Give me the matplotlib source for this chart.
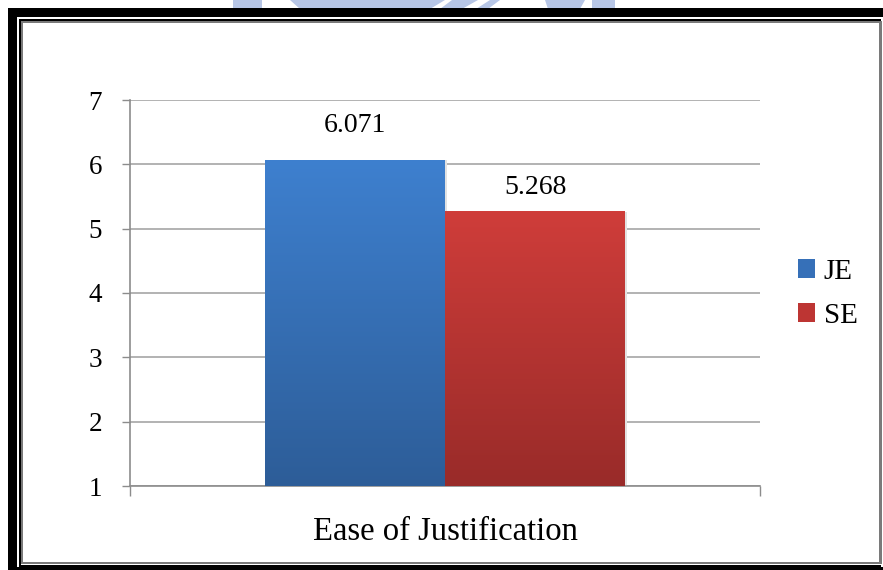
import numpy as np
import matplotlib
matplotlib.use("Agg")
import matplotlib.pyplot as plt
from matplotlib.patches import Rectangle, Polygon, Patch

# -- data --
categories = ["Ease of Justification"]
series     = ["JE", "SE"]
values     = [6.071, 5.268]
yticks     = [1, 2, 3, 4, 5, 6, 7]

top_colors = ["#3E80CF", "#CF3D3A"]
bot_colors = ["#2D5D98", "#992B29"]
leg_colors = ["#3670B8", "#BD3533"]

W, H = 883, 570
plt.rcParams["font.family"] = ["Liberation Serif", "DejaVu Serif"]

fig = plt.figure(figsize=(W / 100, H / 100), dpi=100)


def px_rect(x0, y0, x1, y1, color, z=5):
    fig.patches.append(Rectangle((x0 / W, 1 - y1 / H), (x1 - x0) / W, (y1 - y0) / H,
                                 transform=fig.transFigure, facecolor=color,
                                 edgecolor="none", zorder=z))


def px_poly(pts, color, z=1):
    fig.patches.append(Polygon([(x / W, 1 - y / H) for x, y in pts], closed=True,
                               transform=fig.transFigure, facecolor=color,
                               edgecolor="none", zorder=z))


# faint watermark peeking above the frame
wm = "#B7C6E6"
px_poly([(233, 0), (262, 0), (262, 9), (233, 9)], wm)
px_poly([(290, 0), (445, 0), (430, 9), (300, 9)], wm)
px_poly([(452, 0), (478, 0), (462, 9), (440, 9)], wm)
px_poly([(490, 0), (500, 0), (488, 9), (476, 9)], wm)
px_poly([(545, 0), (585, 0), (580, 9), (548, 9)], wm)
px_poly([(592, 0), (615, 0), (615, 9), (592, 9)], wm)

# frame
px_rect(8, 8, 883, 17, "black")
px_rect(8, 8, 17, 570, "black")
px_rect(8, 567, 883, 570, "black")
px_rect(19, 19, 881, 21, "black")
px_rect(19, 19, 21, 566, "black")
px_rect(19, 565, 881, 567, "black")
px_rect(21, 21, 880, 23, "#7A7A7A")
px_rect(21, 21, 23, 564, "#7A7A7A")
px_rect(21, 562, 880, 564, "#7A7A7A")
px_rect(879, 21, 882, 564, "#7A7A7A")

ax = fig.add_axes([130 / W, 1 - 486 / H, 630 / W, 386 / H])

bar_w = 180 / 630
x_pos = [-bar_w / 2, bar_w / 2]

grad = np.linspace(0, 1, 256).reshape(-1, 1)
for i, (xp, v) in enumerate(zip(x_pos, values)):
    # soft shadow
    ax.add_patch(Rectangle((xp - bar_w / 2 + 0.003, 1), bar_w, v - 1 - 0.01,
                           facecolor="#E2E2E2", edgecolor="none", zorder=2))
    bar = ax.bar(xp, v - 1, bottom=1, width=bar_w, color=top_colors[i],
                 edgecolor="none", zorder=3)[0]
    c_top = np.array(matplotlib.colors.to_rgb(top_colors[i]))
    c_bot = np.array(matplotlib.colors.to_rgb(bot_colors[i]))
    img = c_top[None, None, :] * (1 - grad[:, :, None]) + c_bot[None, None, :] * grad[:, :, None]
    im = ax.imshow(img, extent=[xp - bar_w / 2, xp + bar_w / 2, 1, v],
                   aspect="auto", zorder=4, origin="upper")
    im.set_clip_path(bar)

label_offsets = [22, 11]
for xp, v, off in zip(x_pos, values, label_offsets):
    ax.annotate(f"{v:.3f}", (xp, v), xytext=(0, off * 0.72), textcoords="offset points",
                ha="center", va="bottom", fontsize=20, zorder=6)

ax.set_xlim(-0.5, 0.5)
ax.set_ylim(1, 7)
ax.set_yticks(yticks)
ax.set_yticklabels([str(t) for t in yticks], fontsize=19.5)
ax.set_xticks([-0.5, 0.5])
ax.set_xticklabels(["", ""])
ax.tick_params(axis="y", length=6, width=1, color="#8C8C8C", pad=14)
ax.tick_params(axis="x", length=7, width=1, color="#8C8C8C")
ax.yaxis.grid(True, color="#A6A6A6", linewidth=1.2, zorder=0)
ax.set_axisbelow(True)
for s in ["top", "right"]:
    ax.spines[s].set_visible(False)
for s in ["left", "bottom"]:
    ax.spines[s].set_color("#8C8C8C")
    ax.spines[s].set_linewidth(1.2)
ax.patch.set_alpha(0)

fig.text(445 / W, 1 - 532 / H, categories[0], ha="center", va="center", fontsize=23.5)

handles = [Patch(facecolor=c, edgecolor="none") for c in leg_colors]
fig.legend(handles, series, loc="center left", bbox_to_anchor=(786 / W, 1 - 294 / H),
           frameon=False, fontsize=21, handlelength=0.6, handleheight=0.6,
           handletextpad=0.3, labelspacing=0.62, borderaxespad=0)

fig.savefig("out.png", dpi=100)
